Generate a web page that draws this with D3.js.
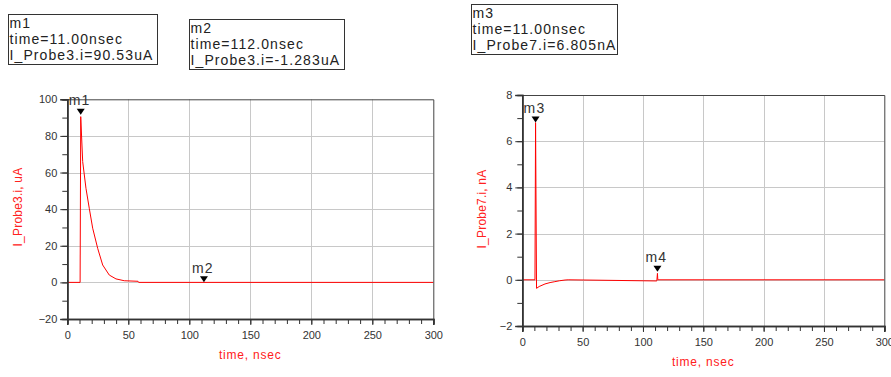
<!DOCTYPE html>
<html><head><meta charset="utf-8">
<script src="https://cdn.jsdelivr.net/npm/d3@7"></script>
<style>
body{margin:0;background:#fff}
svg{display:block}
text{font-family:Arial,"Liberation Sans",sans-serif}
</style>
</head><body>
<svg id="c" width="891" height="377"></svg>
<script>
// ---- data ----
const timeA = [0, 10.5, 11, 12.6, 15.3, 18, 20.8, 24.9, 29, 34.4, 39.9, 46.7, 58, 58.5, 300];
const currA = [0, 0, 90.53, 66, 51.4, 40.5, 29.6, 18.6, 9.5, 4.0, 1.9, 0.9, 0.6, 0, 0];
const timeB = [0, 10.5, 11, 11.8, 14, 18.8, 23, 27, 31, 35.4, 38, 111.5, 112, 112.3, 300];
const currB = [0, 0, 6.805, -0.37, -0.29, -0.18, -0.12, -0.08, -0.04, -0.01, 0, -0.05, 0.28, 0, 0];
const xTicks = [0, 50, 100, 150, 200, 250, 300];
const yTicksA = [-20, 0, 20, 40, 60, 80, 100];
const yTicksB = [-2, 0, 2, 4, 6, 8];
const markerNames = ["m1", "m2", "m3", "m4"];
const markerTimes = [11, 112, 11, 112];
const markerVals = [90.53, -1.283, 6.805, 0.35];
const boxTexts = [
  ["m1", "time=11.00nsec", "I_Probe3.i=90.53uA"],
  ["m2", "time=112.0nsec", "I_Probe3.i=-1.283uA"],
  ["m3", "time=11.00nsec", "I_Probe7.i=6.805nA"]
];

const svg = d3.select("#c");

function drawChart(o) {
  const g = svg.append("g");
  const x = d3.scaleLinear().domain([0, 300]).range([o.left, o.right]);
  const y = d3.scaleLinear().domain(o.yDom).range([o.bottom, o.top]);

  // grid
  g.append("g").selectAll("line").data(xTicks.slice(1, -1)).join("line")
    .attr("x1", d => Math.round(x(d)) + 0.5).attr("x2", d => Math.round(x(d)) + 0.5)
    .attr("y1", o.top).attr("y2", o.bottom).attr("stroke", "#c8c8c8");
  g.append("g").selectAll("line").data(o.yTicks.slice(1, -1)).join("line")
    .attr("y1", d => Math.round(y(d)) + 0.5).attr("y2", d => Math.round(y(d)) + 0.5)
    .attr("x1", o.left).attr("x2", o.right).attr("stroke", "#c8c8c8");

  // curve
  const pts = o.t.map((t, i) => [t, o.v[i]]);
  g.append("path").datum(pts)
    .attr("d", d3.line().x(d => x(d[0])).y(d => y(d[1])))
    .attr("fill", "none").attr("stroke", "#ff0000").attr("stroke-width", 1);

  // border (top & right)
  g.append("path")
    .attr("d", `M${o.left},${o.top + 0.5}H${o.right + 0.5}V${o.bottom}`)
    .attr("fill", "none").attr("stroke", "#444").attr("stroke-width", 1);

  // axes
  const minorX = d3.range(0, 301, 10);
  const gx = g.append("g").attr("transform", `translate(0,${o.bottom})`);
  gx.call(d3.axisBottom(x).tickValues(minorX).tickSize(5).tickFormat(""));
  const gx2 = g.append("g").attr("transform", `translate(0,${o.bottom})`);
  gx2.call(d3.axisBottom(x).tickValues(xTicks).tickSize(6).tickPadding(6).tickFormat(d3.format("d")));
  const gy = g.append("g").attr("transform", `translate(${o.left},0)`);
  gy.call(d3.axisLeft(y).tickValues(o.yMinor).tickSize(5).tickFormat(""));
  const gy2 = g.append("g").attr("transform", `translate(${o.left},0)`);
  gy2.call(d3.axisLeft(y).tickValues(o.yTicks).tickSize(7).tickPadding(3).tickFormat(d3.format("d")));
  [gx, gx2, gy, gy2].forEach(a => {
    a.select(".domain").attr("stroke", "#333").attr("stroke-width", 1.6);
    a.selectAll(".tick line").attr("stroke", "#333");
    a.selectAll(".tick text").attr("fill", "#333").style("font-size", "11px")
      .style("font-family", "Arial, 'Liberation Sans', sans-serif");
  });

  // axis titles
  g.append("text").attr("x", (o.left + o.right) / 2).attr("y", o.bottom + 40)
    .attr("text-anchor", "middle").attr("fill", "#ff2020").style("font-size", "12px")
    .style("letter-spacing", "0.8px").text("time, nsec");
  g.append("text").attr("transform", `translate(${o.ytx},${o.yty}) rotate(-90)`)
    .attr("text-anchor", "middle").attr("fill", "#ff2020").style("font-size", "12px")
    .style("letter-spacing", "0.2px").text(o.yLabel);

  // markers
  o.markers.forEach(i => {
    const mx = x(markerTimes[i]), my = y(markerVals[i]) - o.mOff[o.markers.indexOf(i)];
    g.append("path").attr("d", `M${mx - 4},${my - 6}H${mx + 4}L${mx},${my}Z`).attr("fill", "#000");
    g.append("text").attr("x", mx - 12).attr("y", my - 9.5).attr("fill", "#333")
      .style("font-size", "14px").style("letter-spacing", "1.2px").text(markerNames[i]);
  });
}

drawChart({left: 67.3, right: 433.3, top: 99.3, bottom: 319, yDom: [-20, 100],
  yTicks: yTicksA, yMinor: d3.range(-20, 101, 10), t: timeA, v: currA,
  yLabel: "I_Probe3.i, uA", ytx: 22, yty: 207, markers: [0, 1], mOff: [2, 2.5]});
drawChart({left: 522.3, right: 884.3, top: 95, bottom: 326, yDom: [-2, 8],
  yTicks: yTicksB, yMinor: d3.range(-2, 8.01, 1), t: timeB, v: currB,
  yLabel: "I_Probe7.i, nA", ytx: 486, yty: 209, markers: [2, 3], mOff: [0, 0]});

// marker readout boxes
const boxes = [[8.5, 14.5, 149, 50], [189.5, 19.5, 155, 50], [471.5, 4.5, 146, 50]];
boxes.forEach((b, i) => {
  const g = svg.append("g");
  g.append("rect").attr("x", b[0]).attr("y", b[1]).attr("width", b[2]).attr("height", b[3])
    .attr("fill", "#fff").attr("stroke", "#333").attr("stroke-width", 1);
  boxTexts[i].forEach((s, j) => {
    g.append("text").attr("x", b[0] + 1).attr("y", b[1] + 13 + j * 16).attr("fill", "#222")
      .style("font-size", "14px").style("letter-spacing", "1.1px").text(s);
  });
});
</script>
</body></html>
